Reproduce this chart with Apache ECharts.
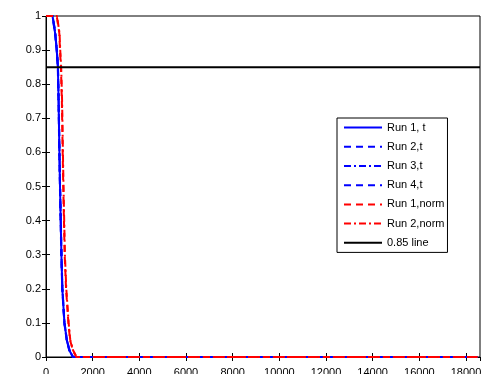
<!DOCTYPE html>
<html><head><meta charset="utf-8">
<script src="https://cdn.jsdelivr.net/npm/echarts@6/dist/echarts.min.js"></script>
<style>html,body{margin:0;padding:0;background:#fff}#c{width:483px;height:374px}</style>
</head><body><div id="c"></div>
<script>
// Data
var seriesNames = ["Run 1, t", "Run 2,t", "Run 3,t", "Run 4,t", "Run 1,norm", "Run 2,norm", "0.85 line"];
var tailX = [1500, 3000, 6000, 9000, 12000, 15000, 18500];
var tailY = [0, 0, 0, 0, 0, 0, 0];

var run1tX = [0, 280, 390, 460, 510, 540, 570, 600, 630, 660, 700, 790, 890, 1000, 1150];
var run1tY = [1, 1, 0.95, 0.9, 0.85, 0.75, 0.62, 0.5, 0.4, 0.3, 0.2, 0.1, 0.05, 0.02, 0];
var run2tX = [0, 290, 400, 470, 515, 545, 575, 605, 635, 665, 705, 795, 895, 1010, 1160];
var run2tY = [1, 1, 0.95, 0.9, 0.85, 0.75, 0.62, 0.5, 0.4, 0.3, 0.2, 0.1, 0.05, 0.02, 0];
var run3tX = [0, 285, 395, 465, 512, 542, 572, 602, 632, 662, 702, 792, 892, 1005, 1155];
var run3tY = [1, 1, 0.95, 0.9, 0.85, 0.75, 0.62, 0.5, 0.4, 0.3, 0.2, 0.1, 0.05, 0.02, 0];
var run4tX = [0, 275, 385, 455, 505, 535, 565, 595, 625, 655, 695, 785, 885, 995, 1145];
var run4tY = [1, 1, 0.95, 0.9, 0.85, 0.75, 0.62, 0.5, 0.4, 0.3, 0.2, 0.1, 0.05, 0.02, 0];
var run1nX = [0, 460, 570, 600, 640, 680, 715, 740, 770, 800, 860, 960, 1030, 1150, 1300];
var run1nY = [1, 1, 0.95, 0.9, 0.85, 0.75, 0.6, 0.5, 0.4, 0.3, 0.2, 0.1, 0.05, 0.02, 0];
var run2nX = [0, 470, 580, 610, 650, 690, 725, 750, 780, 810, 870, 970, 1040, 1160, 1310];
var run2nY = [1, 1, 0.95, 0.9, 0.85, 0.75, 0.6, 0.5, 0.4, 0.3, 0.2, 0.1, 0.05, 0.02, 0];
var refLineX = [0, 18600];
var refLineY = [0.85, 0.85];

var xTicks = [0, 2000, 4000, 6000, 8000, 10000, 12000, 14000, 16000, 18000];
var yTicks = [0, 0.1, 0.2, 0.3, 0.4, 0.5, 0.6, 0.7, 0.8, 0.9, 1];

function pairs(xs, ys, withTail) {
  var out = xs.map(function (x, i) { return [x, ys[i]]; });
  if (withTail) tailX.forEach(function (x, i) { out.push([x, tailY[i]]); });
  return out;
}

var blue = '#0000ff', red = '#ff0000';
function mk(name, data, color, type, w) {
  return { name: name, type: 'line', data: data, symbol: 'none', animation: false,
    lineStyle: { color: color, width: w || 2, type: type }, itemStyle: { color: color } };
}
var series = [
  mk(seriesNames[0], pairs(run1tX, run1tY, true), blue, 'solid'),
  mk(seriesNames[1], pairs(run2tX, run2tY, true), blue, [7, 5]),
  mk(seriesNames[2], pairs(run3tX, run3tY, true), blue, [7, 3, 2, 3]),
  mk(seriesNames[3], pairs(run4tX, run4tY, true), blue, [7, 5]),
  mk(seriesNames[4], pairs(run1nX, run1nY, true), red, [7, 5]),
  mk(seriesNames[5], pairs(run2nX, run2nY, true), red, [7, 3, 2, 3]),
  mk(seriesNames[6], pairs(refLineX, refLineY, false), '#000000', 'solid')
];

var font = 'Liberation Sans, Arial, sans-serif';
var chart = echarts.init(document.getElementById('c'), null, { renderer: 'canvas' });
chart.setOption({
  animation: false,
  backgroundColor: '#fff',
  grid: { left: 46, top: 16, right: 3, bottom: 17, show: true, borderColor: '#000', borderWidth: 1,
    containLabel: false, outerBoundsMode: 'none' },
  legend: {
    data: seriesNames, orient: 'vertical', left: 337, top: 118,
    itemWidth: 38, itemHeight: 14, itemGap: 8, padding: [4, 3, 4, 6],
    itemStyle: { opacity: 0 },
    borderColor: '#000', borderWidth: 1, backgroundColor: '#fff',
    textStyle: { fontFamily: font, fontSize: 11, color: '#000' }
  },
  xAxis: [{
    type: 'value', min: 0, max: 18600, interval: 2000, position: 'bottom',
    axisLine: { lineStyle: { color: '#000' } },
    axisTick: { inside: true, length: 4, lineStyle: { color: '#000' } },
    axisLabel: { margin: 10, fontFamily: font, fontSize: 11, color: '#000', showMaxLabel: false,
      formatter: function (v) { return xTicks.indexOf(v) >= 0 ? String(v) : ''; } },
    splitLine: { show: false }
  }, {
    type: 'value', min: 0, max: 18600, interval: 2000, position: 'top',
    axisLine: { lineStyle: { color: '#000' } },
    axisTick: { inside: true, length: 4, lineStyle: { color: '#000' } },
    axisLabel: { show: false }, splitLine: { show: false }
  }],
  yAxis: [{
    type: 'value', min: 0, max: 1, interval: 0.1, position: 'left',
    axisLine: { show: true, lineStyle: { color: '#000' } },
    axisTick: { show: true, inside: true, length: 4, lineStyle: { color: '#000' } },
    axisLabel: { margin: 5, fontFamily: font, fontSize: 11, color: '#000',
      formatter: function (v) { var r = Math.round(v * 10) / 10; return yTicks.indexOf(r) >= 0 ? String(r) : ''; } },
    splitLine: { show: false }
  }, {
    type: 'value', min: 0, max: 1, interval: 0.1, position: 'right',
    axisLine: { show: true, lineStyle: { color: '#000' } },
    axisTick: { show: true, inside: true, length: 4, lineStyle: { color: '#000' } },
    axisLabel: { show: false }, splitLine: { show: false }
  }],
  series: series
});
</script></body></html>
